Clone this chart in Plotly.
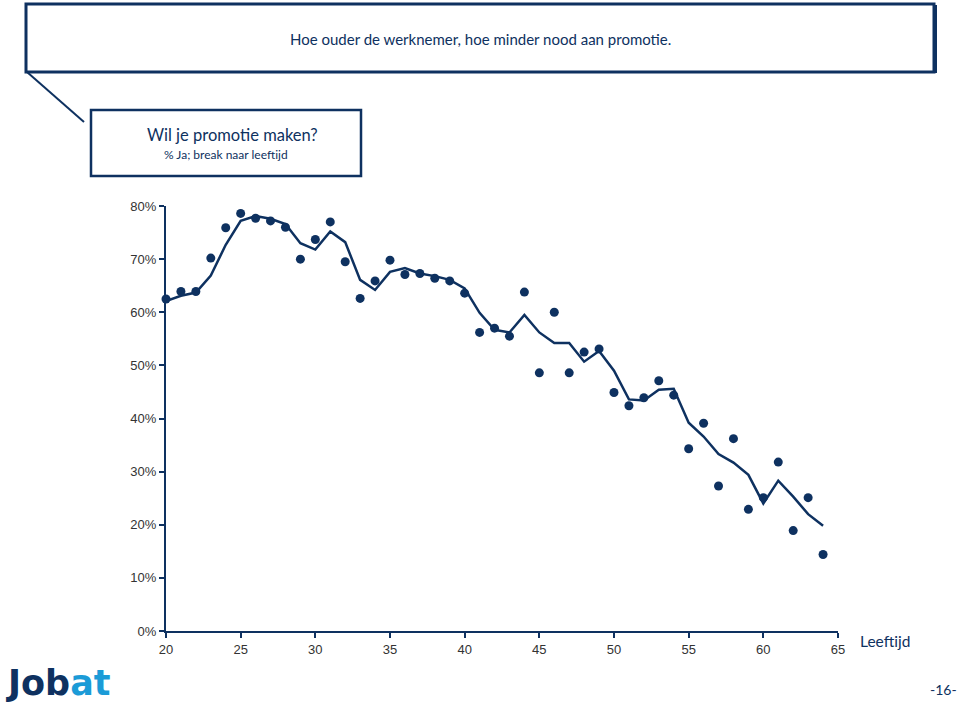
import plotly.graph_objects as go

# ---- data ----
ages = list(range(20, 65))
pct_yes = [62.5, 63.9, 63.9, 70.2, 75.9, 78.6, 77.7, 77.2, 76.0, 70.0,
           73.7, 77.0, 69.5, 62.6, 65.9, 69.8, 67.1, 67.3, 66.4, 65.9,
           63.6, 56.2, 57.0, 55.5, 63.8, 48.6, 60.0, 48.6, 52.5, 53.1,
           44.9, 42.4, 43.9, 47.1, 44.4, 34.3, 39.1, 27.3, 36.2, 22.9,
           25.1, 31.8, 18.9, 25.1, 14.4]
trend = [62.1, 63.1, 63.7, 66.9, 72.7, 77.2, 78.1, 77.6, 76.6, 73.0,
         71.8, 75.2, 73.2, 66.1, 64.2, 67.6, 68.3, 67.3, 66.8, 66.1,
         64.5, 59.9, 56.7, 56.2, 59.5, 56.2, 54.2, 54.2, 50.7, 52.7,
         49.0, 43.6, 43.4, 45.4, 45.6, 39.2, 36.6, 33.3, 31.7, 29.4,
         24.0, 28.3, 25.3, 22.0, 19.8]
x_ticks = [20, 25, 30, 35, 40, 45, 50, 55, 60, 65]
y_ticks = [0, 10, 20, 30, 40, 50, 60, 70, 80]
y_tick_labels = ["0%", "10%", "20%", "30%", "40%", "50%", "60%", "70%", "80%"]

title_text = "Hoe ouder de werknemer, hoe minder nood aan promotie."
question_text = "Wil je promotie maken?"
question_sub = "% Ja; break naar leeftijd"
x_label = "Leeftijd"
page_no = "-16-"

NAVY = "#0e3160"
W, H = 960, 710
L, R, T, B = 166, 838, 206, 631


def px(x):
    return (x - L) / (R - L)


def py(y):
    return (B - y) / (B - T)


fig = go.Figure()
fig.add_trace(go.Scatter(x=ages, y=trend, mode="lines",
                         line=dict(color=NAVY, width=2.5),
                         hoverinfo="skip", cliponaxis=False))
fig.add_trace(go.Scatter(x=ages, y=pct_yes, mode="markers",
                         marker=dict(color=NAVY, size=9),
                         cliponaxis=False))

axis_font = dict(family="Liberation Sans, Arial, sans-serif", size=13, color="#333333")
fig.update_xaxes(range=[20, 65], tickvals=x_ticks, ticks="outside", ticklen=5,
                 tickcolor=NAVY, tickwidth=1.5, showline=True, linecolor=NAVY,
                 linewidth=2, showgrid=False, zeroline=False, tickfont=axis_font)
fig.update_yaxes(range=[0, 80], tickvals=y_ticks, ticktext=y_tick_labels,
                 ticks="outside", ticklen=5, tickcolor=NAVY, tickwidth=1.5,
                 showline=True, linecolor=NAVY, linewidth=2, showgrid=False,
                 zeroline=False, tickfont=axis_font)

shapes = [
    # header box shadow edges (right / bottom slightly heavier)
    dict(type="line", xref="paper", yref="paper", x0=px(935), x1=px(935),
         y0=py(73), y1=py(5), line=dict(color=NAVY, width=4)),
    # header box
    dict(type="rect", xref="paper", yref="paper", x0=px(26), x1=px(934),
         y0=py(72), y1=py(4), line=dict(color=NAVY, width=3), fillcolor="white"),
    # callout line
    dict(type="line", xref="paper", yref="paper", x0=px(27), y0=py(72),
         x1=px(84), y1=py(122), line=dict(color=NAVY, width=2)),
    # question box
    dict(type="rect", xref="paper", yref="paper", x0=px(91), x1=px(361),
         y0=py(176), y1=py(110), line=dict(color=NAVY, width=2.5), fillcolor="white"),
]

txt_font = "Lato, Noto Sans, sans-serif"


def note(text, x, y, size, xanchor="center", family=txt_font, **kw):
    return dict(text=text, x=px(x), y=py(y), xref="paper", yref="paper",
                xanchor=xanchor, yanchor="middle", showarrow=False,
                font=dict(family=family, size=size, color=NAVY, **kw))


annotations = [
    note(title_text, 480, 39, 15),
    note(question_text, 232, 135, 16.5),
    note(question_sub, 226, 154, 12),
    note(x_label, 885, 641, 15.5),
    note(page_no, 943, 689, 14),
    note("<b><span style='color:#0e3160'>Job</span><span style='color:#1b9bd7'>at</span></b>",
         4, 683, 35, xanchor="left", family="DejaVu Sans, sans-serif"),
]

fig.update_layout(width=W, height=H, margin=dict(l=L, r=W - R, t=T, b=H - B),
                  paper_bgcolor="white", plot_bgcolor="white", showlegend=False,
                  shapes=shapes, annotations=annotations)

fig.write_html("out.html")
